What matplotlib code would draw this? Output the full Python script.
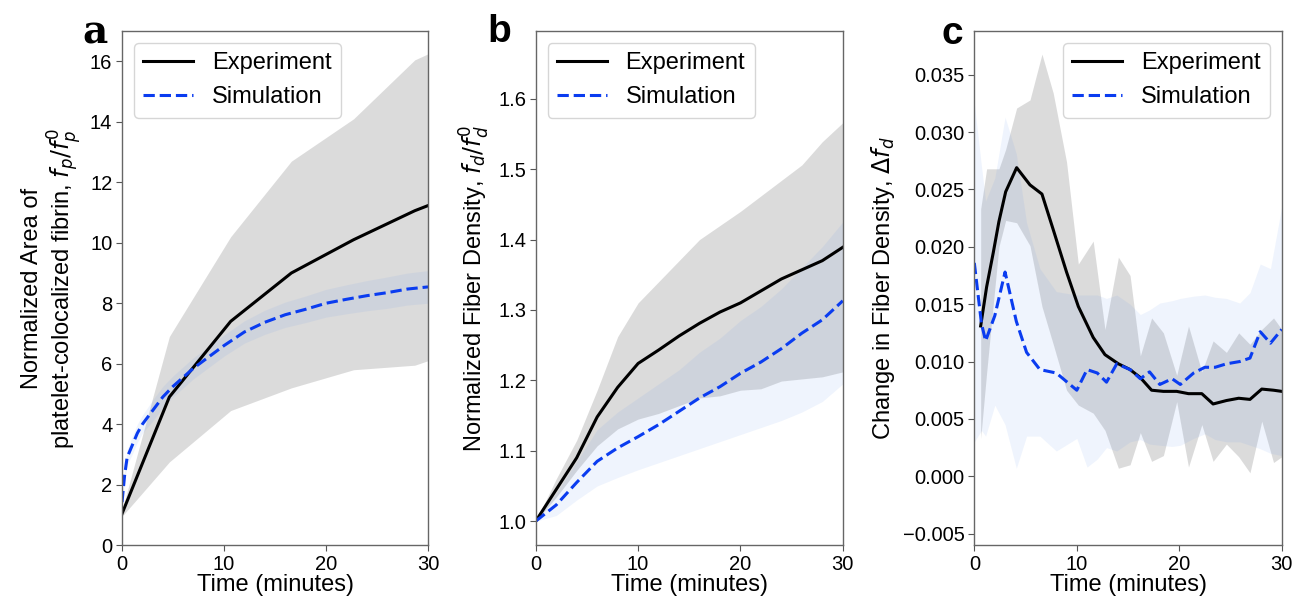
import numpy as np
import matplotlib
matplotlib.use('Agg')
import matplotlib.pyplot as plt
from matplotlib.ticker import MultipleLocator

plt.rcParams['font.family'] = ['Liberation Sans', 'DejaVu Sans']
plt.rcParams['mathtext.fontset'] = 'dejavusans'

# ---- panel a: normalized area of platelet-colocalized fibrin
t_exp_a = [0, 4.64, 10.65, 16.6, 22.7, 28.7, 30]
exp_a = [1.04, 4.9, 7.4, 9.0, 10.1, 11.06, 11.23]
exp_a_hi = [1.15, 6.9, 10.2, 12.7, 14.1, 16.05, 16.25]
exp_a_lo = [0.95, 2.75, 4.45, 5.2, 5.8, 5.95, 6.1]

t_sim_a = [0, 0.25, 0.5, 1, 1.5, 2, 3, 4, 5, 6, 7, 8, 10, 12, 14, 16, 18, 20, 22, 24, 26, 28, 30]
sim_a = [1.42, 2.3, 2.9, 3.3, 3.7, 4.0, 4.45, 4.9, 5.25, 5.55, 5.85, 6.1, 6.6, 7.05, 7.37,
         7.62, 7.8, 8.0, 8.13, 8.25, 8.35, 8.47, 8.54]
sim_a_hi = [1.5, 2.5, 3.15, 3.6, 4.0, 4.3, 4.8, 5.25, 5.6, 5.9, 6.2, 6.45, 6.95, 7.42, 7.77,
            8.04, 8.24, 8.46, 8.61, 8.75, 8.87, 9.0, 9.08]
sim_a_lo = [1.34, 2.1, 2.65, 3.0, 3.4, 3.7, 4.1, 4.55, 4.9, 5.2, 5.5, 5.75, 6.25, 6.68, 6.97,
            7.2, 7.36, 7.54, 7.65, 7.75, 7.83, 7.94, 8.0]

# ---- panel b: normalized fiber density
t_b = [0, 2, 4, 6, 8, 10, 12, 14, 16, 18, 20, 22, 24, 26, 28, 30]
exp_b = [1.0, 1.045, 1.09, 1.148, 1.19, 1.224, 1.243, 1.263, 1.281, 1.297, 1.31, 1.327,
         1.344, 1.357, 1.37, 1.389]
exp_b_hi = [1.0, 1.06, 1.115, 1.186, 1.262, 1.31, 1.34, 1.37, 1.40, 1.42, 1.44, 1.462,
            1.484, 1.506, 1.539, 1.566]
exp_b_lo = [1.0, 1.034, 1.072, 1.107, 1.131, 1.145, 1.153, 1.164, 1.175, 1.178, 1.186,
            1.188, 1.199, 1.202, 1.205, 1.212]
sim_b = [1.0, 1.023, 1.055, 1.085, 1.104, 1.12, 1.137, 1.156, 1.175, 1.191, 1.21, 1.226,
         1.245, 1.267, 1.286, 1.313]
sim_b_hi = [1.0, 1.04, 1.085, 1.13, 1.155, 1.175, 1.195, 1.215, 1.24, 1.26, 1.285, 1.305,
            1.33, 1.36, 1.39, 1.425]
sim_b_lo = [1.0, 1.008, 1.03, 1.05, 1.062, 1.073, 1.083, 1.093, 1.103, 1.113, 1.123, 1.133,
            1.143, 1.155, 1.17, 1.195]

# ---- panel c: change in fiber density
t_exp_c = [0.62, 1.2, 1.85, 2.4, 3.06, 4.13, 5.43, 6.6, 7.7, 9.0, 10.15, 11.6, 12.75, 14.06,
           15.2, 16.2, 17.3, 18.45, 19.75, 20.9, 22.2, 23.3, 24.6, 25.8, 26.9, 28.05, 29.2, 30]
exp_c = [0.0131, 0.0165, 0.0195, 0.0222, 0.0248, 0.0269, 0.0254, 0.0246, 0.0215, 0.0178,
         0.0148, 0.0121, 0.0106, 0.0098, 0.0093, 0.0086, 0.0075, 0.0074, 0.0074, 0.0072,
         0.0072, 0.0063, 0.0066, 0.0068, 0.0067, 0.0076, 0.0075, 0.0074]
exp_c_hi = [0.0233, 0.0268, 0.0268, 0.0268, 0.0285, 0.0321, 0.0328, 0.0368, 0.0334, 0.0274,
            0.0185, 0.0205, 0.0128, 0.0191, 0.0175, 0.0105, 0.0138, 0.0125, 0.0088, 0.0131,
            0.0091, 0.0118, 0.0108, 0.0125, 0.0115, 0.0128, 0.0138, 0.0128]
exp_c_lo = [0.0033, 0.0090, 0.0150, 0.0200, 0.0223, 0.0221, 0.0201, 0.0148, 0.0115, 0.0075,
            0.0062, 0.0055, 0.0040, 0.0007, 0.0010, 0.0038, 0.0013, 0.0018, 0.0065, 0.0008,
            0.0045, 0.0013, 0.0028, 0.0017, 0.0003, 0.0048, 0.0012, 0.0017]

t_sim_c = [0, 0.7, 1.1, 2, 3.0, 4.1, 5.1, 6.4, 8, 10, 11, 12, 12.9, 13.9, 15.2, 16.2, 17.1,
           18.1, 19.3, 20.1, 21.4, 22.5, 23.5, 24.6, 25.9, 26.9, 27.9, 28.9, 30]
sim_c = [0.0186, 0.0133, 0.0118, 0.0140, 0.0178, 0.0135, 0.0108, 0.0093, 0.0090, 0.0075,
         0.0093, 0.0090, 0.0082, 0.0098, 0.0093, 0.0085, 0.0091, 0.0080, 0.0085, 0.0080,
         0.0090, 0.0095, 0.0095, 0.0098, 0.0100, 0.0103, 0.0126, 0.0116, 0.0128]
sim_c_hi = [0.0325, 0.0270, 0.0240, 0.0260, 0.0313, 0.0281, 0.0221, 0.0181, 0.0161, 0.0158,
            0.0158, 0.0158, 0.0155, 0.0158, 0.0150, 0.0141, 0.0145, 0.0151, 0.0153, 0.0155,
            0.0157, 0.0158, 0.0156, 0.0155, 0.0151, 0.0160, 0.0185, 0.0181, 0.0235]
sim_c_lo = [0.0030, 0.0040, 0.0035, 0.0062, 0.0045, 0.0007, 0.0035, 0.0035, 0.0022, 0.0033,
            0.0008, 0.0015, 0.0025, 0.0022, 0.0030, 0.0032, 0.0028, 0.0027, 0.0026, 0.0027,
            0.0033, 0.0037, 0.0032, 0.0030, 0.0030, 0.0027, 0.0024, 0.0020, 0.0018]

blue = '#0a3cf0'

fig = plt.figure(figsize=(13.01, 5.99), dpi=100)
ax_a = fig.add_axes([0.0938, 0.090, 0.2352, 0.858])
ax_b = fig.add_axes([0.4118, 0.090, 0.2360, 0.858])
ax_c = fig.add_axes([0.7489, 0.090, 0.2363, 0.858])


def draw(ax, te, e, ehi, elo, ts, s, shi, slo):
    ax.fill_between(te, elo, ehi, color='gray', alpha=0.28, lw=0)
    ax.fill_between(ts, slo, shi, color='cornflowerblue', alpha=0.1, lw=0)
    ax.plot(te, e, color='black', lw=2.2, label='Experiment')
    ax.plot(ts, s, color=blue, lw=2.2, ls='--', label='Simulation')
    ax.set_xlim(0, 30)
    ax.xaxis.set_major_locator(MultipleLocator(10))
    ax.set_xlabel('Time (minutes)', fontsize=17, labelpad=0)
    ax.tick_params(labelsize=14.5, length=4, color='#555555', pad=3)
    for sp in ax.spines.values():
        sp.set_color('#666666')
        sp.set_linewidth(1)


leg_kw = dict(fontsize=17, handlelength=2.1, handletextpad=0.8)

draw(ax_a, t_exp_a, exp_a, exp_a_hi, exp_a_lo, t_sim_a, sim_a, sim_a_hi, sim_a_lo)
ax_a.set_ylim(0, 17)
ax_a.yaxis.set_major_locator(MultipleLocator(2))
ax_a.set_ylabel('Normalized Area of\nplatelet-colocalized fibrin, $f_p/f_p^0$',
                fontsize=17, linespacing=1.1)
ax_a.legend(loc='upper left', **leg_kw)

draw(ax_b, t_b, exp_b, exp_b_hi, exp_b_lo, t_b, sim_b, sim_b_hi, sim_b_lo)
ax_b.set_ylim(0.966, 1.696)
ax_b.yaxis.set_major_locator(MultipleLocator(0.1))
ax_b.set_ylabel('Normalized Fiber Density, $f_d/f_d^0$', fontsize=17)
ax_b.legend(loc='upper left', **leg_kw)

draw(ax_c, t_exp_c, exp_c, exp_c_hi, exp_c_lo, t_sim_c, sim_c, sim_c_hi, sim_c_lo)
ax_c.set_ylim(-0.006, 0.0388)
ax_c.yaxis.set_major_locator(MultipleLocator(0.005))
ax_c.yaxis.set_major_formatter(lambda v, p: f'{v:.3f}'.replace('-', '\u2212'))
ax_c.set_ylabel('Change in Fiber Density, $\\Delta f_d$', fontsize=17)
ax_c.legend(loc='upper right', **leg_kw)

fig.text(0.063, 0.927, 'a', fontsize=28, fontweight='bold', family='DejaVu Serif',
         va='baseline', ha='left')
fig.text(0.375, 0.93, 'b', fontsize=28, fontweight='bold', va='baseline', ha='left')
fig.text(0.724, 0.927, 'c', fontsize=28, fontweight='bold', va='baseline', ha='left')

fig.savefig('out.png', dpi=100)
